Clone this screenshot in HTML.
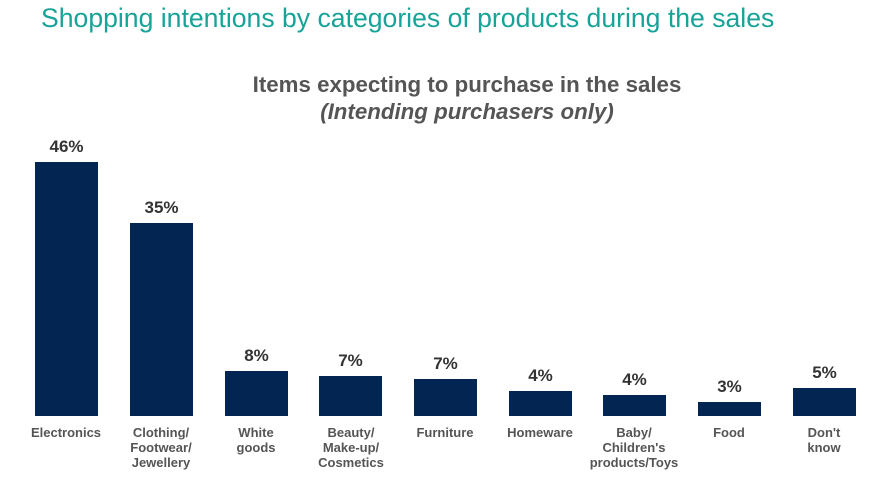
<!DOCTYPE html><html><head><style>
body{margin:0;width:873px;height:488px;background:#fff;font-family:"Liberation Sans",sans-serif;position:relative;overflow:hidden}
.t{position:absolute;left:41px;top:3px;font-size:26.6px;color:#17a398;white-space:nowrap}
.h{position:absolute;left:0;width:934px;text-align:center;font-weight:bold;color:#555;font-size:22.3px}
.b{position:absolute;background:#022552;width:63px;bottom:72px}
.v{position:absolute;width:63px;text-align:center;font-weight:bold;font-size:17px;color:#333}
.l{position:absolute;width:100px;text-align:center;font-weight:bold;font-size:13px;color:#555;line-height:15px;top:425px}
</style></head><body>
<div class="t">Shopping intentions by categories of products during the sales</div>
<div class="h" style="top:72px">Items expecting to purchase in the sales</div>
<div class="h" style="top:99px;font-style:italic">(Intending purchasers only)</div>
<div class="b" style="left:35px;top:162px"></div><div class="v" style="left:35px;top:137px">46%</div><div class="l" style="left:16px">Electronics</div>
<div class="b" style="left:130px;top:223px"></div><div class="v" style="left:130px;top:198px">35%</div><div class="l" style="left:111px">Clothing/<br>Footwear/<br>Jewellery</div>
<div class="b" style="left:225px;top:371px"></div><div class="v" style="left:225px;top:346px">8%</div><div class="l" style="left:206px">White<br>goods</div>
<div class="b" style="left:319px;top:376px"></div><div class="v" style="left:319px;top:351px">7%</div><div class="l" style="left:301px">Beauty/<br>Make-up/<br>Cosmetics</div>
<div class="b" style="left:414px;top:379px"></div><div class="v" style="left:414px;top:354px">7%</div><div class="l" style="left:395px">Furniture</div>
<div class="b" style="left:509px;top:391px"></div><div class="v" style="left:509px;top:366px">4%</div><div class="l" style="left:490px">Homeware</div>
<div class="b" style="left:603px;top:395px"></div><div class="v" style="left:603px;top:370px">4%</div><div class="l" style="left:584px">Baby/<br>Children's<br>products/Toys</div>
<div class="b" style="left:698px;top:402px"></div><div class="v" style="left:698px;top:377px">3%</div><div class="l" style="left:679px">Food</div>
<div class="b" style="left:793px;top:388px"></div><div class="v" style="left:793px;top:363px">5%</div><div class="l" style="left:774px">Don't<br>know</div>
</body></html>
